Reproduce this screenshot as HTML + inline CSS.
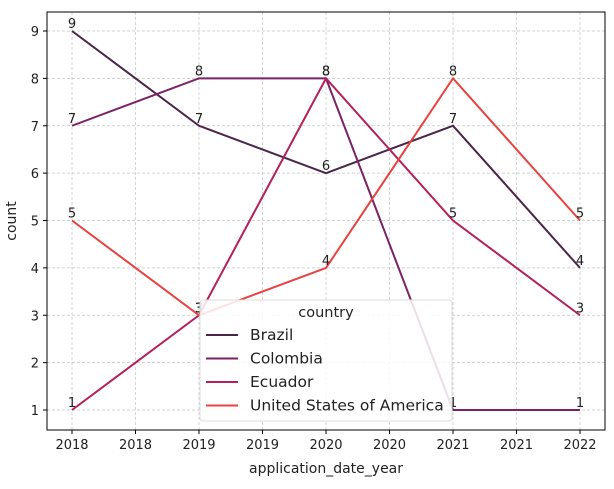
<!DOCTYPE html>
<html><head><meta charset="utf-8"><style>
body{margin:0;background:#fff;font-family:"Liberation Sans","DejaVu Sans",sans-serif;}
svg text{font-family:"DejaVu Sans","Liberation Sans",sans-serif;}
</style></head><body>
<svg id="c" width="614" height="484"></svg>
<script>
const years=[2018,2019,2020,2021,2022];
const series=["Brazil","Colombia","Ecuador","United States of America"];
const brazil=[9,7,6,7,4];
const colombia=[7,8,8,1,1];
const ecuador=[1,3,8,5,3];
const usa=[5,3,4,8,5];
const xTickLabels=["2018","2018","2019","2019","2020","2020","2021","2021","2022"];
const yTicks=[1,2,3,4,5,6,7,8,9];
const colors=["#4a2449","#7a2265","#b51f5a","#e8413f"];
const data=[brazil,colombia,ecuador,usa];
const NS="http://www.w3.org/2000/svg";
const svg=document.getElementById('c');
const L=47,R=605,T=12,B=430;
const x=v=>72+(v-2018)*127;
const y=v=>410-(v-1)*47.375;
function mk(t,a,p){const e=document.createElementNS(NS,t);for(const k in a)e.setAttribute(k,a[k]);(p||svg).appendChild(e);return e;}
xTickLabels.forEach((lab,i)=>{const xv=2018+i*0.5,px=x(xv);
 const g=mk('line',{x1:px,x2:px,y1:T,y2:B,stroke:'#c4c4c4','stroke-width':0.7,'stroke-dasharray':'3,2'});
 
 
 mk('line',{x1:px,x2:px,y1:B,y2:B+4,stroke:'#000'});
 const t=mk('text',{x:px,y:B+19,'text-anchor':'middle','font-size':13,fill:'#222'});t.textContent=lab;
 
 
});
yTicks.forEach(v=>{const py=y(v);
 const g=mk('line',{x1:L,x2:R,y1:py,y2:py,stroke:'#c4c4c4','stroke-width':0.7,'stroke-dasharray':'3,2'});
 
 
 mk('line',{x1:L-4,x2:L,y1:py,y2:py,stroke:'#000'});
 const t=mk('text',{x:L-8,y:py+5,'text-anchor':'end','font-size':13,fill:'#222'});t.textContent=v;
 
 
});
data.forEach((d,s)=>{
 const p=mk('polyline',{points:d.map((v,i)=>x(years[i])+','+y(v)).join(' '),fill:'none',stroke:colors[s],'stroke-width':2});
 
 
 d.forEach((v,i)=>{const t=mk('text',{x:x(years[i]),y:y(v)-3,'text-anchor':'middle','font-size':13,fill:'#222'});t.textContent=v;
  
  });
});
const fr=mk('rect',{x:L,y:T,width:R-L,height:B-T,fill:'none',stroke:'#000','stroke-width':1});


const lg=mk('g',{});


mk('rect',{x:200,y:300,width:252,height:121,rx:3,fill:'#fff','fill-opacity':0.85,stroke:'#ddd'},lg);
const lt=mk('text',{x:326,y:317,'text-anchor':'middle','font-size':14.5,fill:'#222'},lg);lt.textContent='country';
series.forEach((n,i)=>{const py=335+i*23.5;
 const e=mk('g',{},lg);
 
 
 mk('line',{x1:206,x2:238,y1:py,y2:py,stroke:colors[i],'stroke-width':2},e);
 const t=mk('text',{x:250,y:py+5,'font-size':15.5,fill:'#222'},e);t.textContent=n;});
const xl=mk('text',{x:326,y:473,'text-anchor':'middle','font-size':14,fill:'#222'});xl.textContent='application_date_year';


const yl=mk('text',{x:16,y:221,'text-anchor':'middle','font-size':14,fill:'#222',transform:'rotate(-90 16 221)'});yl.textContent='count';


</script>
</body></html>
